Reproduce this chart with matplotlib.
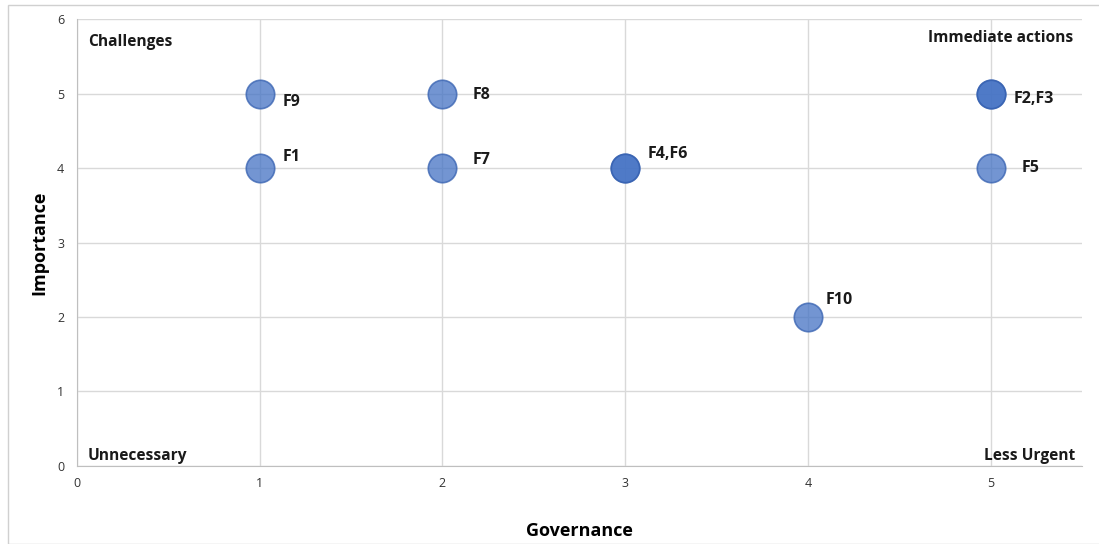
import matplotlib
matplotlib.use("Agg")
import matplotlib.pyplot as plt
from matplotlib.patches import Rectangle

# ---- data ----
names = ["F1", "F2", "F3", "F4", "F5", "F6", "F7", "F8", "F9", "F10"]
governance = [1, 5, 5, 3, 5, 3, 2, 2, 1, 4]
importance = [4, 5, 5, 4, 4, 4, 4, 5, 5, 2]

# labels shown on the chart (overlapping points share one label)
label_text = ["F9", "F1", "F8", "F7", "F4,F6", "F2,F3", "F5", "F10"]
label_x = [1, 1, 2, 2, 3, 5, 5, 4]
label_y = [5, 4, 5, 4, 4, 5, 4, 2]
label_off = [(16.5, -6), (16.5, 8), (21.5, -1), (21.5, 6), (16.5, 10), (16.5, -4), (22, 0), (13, 12)]

quadrants = ["Challenges", "Immediate actions", "Unnecessary", "Less Urgent"]

plt.rcParams["font.family"] = ["Open Sans", "DejaVu Sans"]

fig = plt.figure(figsize=(10.99, 5.44), dpi=100)
ax = fig.add_axes([0.070, 0.1434, 0.9145, 0.8216])

# light frame round the chart
fig.patches.append(Rectangle((8 / 1099, 0), 1.0, 1 - 5 / 544, transform=fig.transFigure,
                             fill=False, edgecolor="#D0D0D0", linewidth=1))

ax.scatter(governance, importance, s=420, color="#4472C4", alpha=0.75,
           edgecolors="#3560B0", linewidths=1.2, zorder=3)

for t, x, y, off in zip(label_text, label_x, label_y, label_off):
    ax.annotate(t, (x, y), xytext=off, textcoords="offset points",
                ha="left", va="center", fontsize=11.5, fontweight="bold", color="#1a1a1a")

qfont = dict(fontsize=11.2, fontweight="bold", color="#1a1a1a")
ax.text(0.06, 5.69, quadrants[0], ha="left", va="center", **qfont)
ax.text(5.455, 5.74, quadrants[1], ha="right", va="center", **qfont)
ax.text(0.06, 0.14, quadrants[2], ha="left", va="center", **qfont)
ax.text(5.465, 0.14, quadrants[3], ha="right", va="center", **qfont)

ax.set_xlim(0, 5.5)
ax.set_ylim(0, 6)
ax.set_xticks(range(0, 6))
ax.set_yticks(range(0, 7))
ax.grid(True, color="#D9D9D9", linewidth=1)
ax.set_axisbelow(True)
ax.tick_params(length=0, labelsize=9, colors="#333333")
ax.tick_params(axis="x", pad=8)
ax.tick_params(axis="y", pad=9)
for s in ["top", "right"]:
    ax.spines[s].set_visible(False)
for s in ["left", "bottom"]:
    ax.spines[s].set_color("#BFBFBF")

ax.set_xlabel("Governance", fontsize=13, fontweight="bold")
ax.set_ylabel("Importance", fontsize=13, fontweight="bold")
ax.xaxis.set_label_coords(0.5, -0.125)
ax.yaxis.set_label_coords(-0.028, 0.5)

fig.savefig("out.png", dpi=100)
